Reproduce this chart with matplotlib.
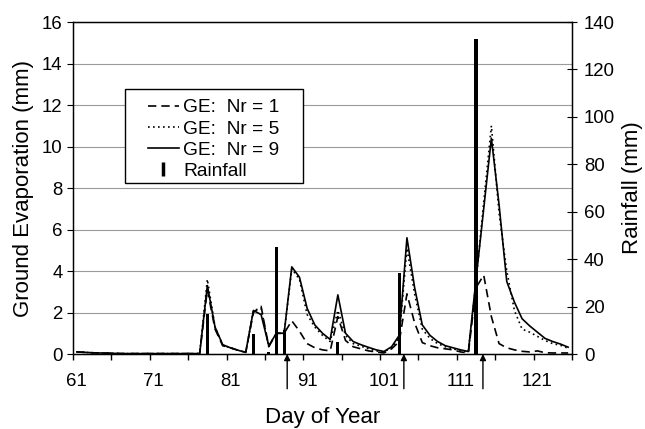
import numpy as np
import matplotlib.pyplot as plt
from matplotlib.lines import Line2D
from matplotlib.patches import Rectangle

plt.rcParams['font.family'] = ['Liberation Sans', 'DejaVu Sans']

# Day of year, 61..125
days = np.arange(61, 126)

# Ground evaporation (mm) for the three Nr settings
ge_nr1 = [0.1, 0.08, 0.06, 0.05, 0.04, 0.03, 0.02, 0.02, 0.02, 0.02,
          0.02, 0.02, 0.02, 0.02, 0.02, 0.02, 0.02, 3.1, 1.2, 0.4,
          0.3, 0.18, 0.08, 2.0, 2.3, 0.35, 1.0, 1.0, 1.6, 1.1,
          0.5, 0.3, 0.2, 0.15, 1.8, 0.65, 0.35, 0.25, 0.15, 0.1,
          0.05, 0.25, 0.6, 2.9, 1.5, 0.55, 0.4, 0.3, 0.25, 0.2,
          0.1, 0.05, 3.2, 3.8, 1.8, 0.5, 0.3, 0.2, 0.13, 0.1,
          0.15, 0.06, 0.05, 0.05, 0.05]
ge_nr5 = [0.1, 0.08, 0.06, 0.05, 0.04, 0.03, 0.02, 0.02, 0.02, 0.02,
          0.02, 0.02, 0.02, 0.02, 0.02, 0.02, 0.02, 3.6, 1.3, 0.42,
          0.3, 0.18, 0.08, 2.1, 2.2, 0.38, 1.0, 1.0, 4.1, 3.6,
          1.9, 1.3, 0.9, 0.6, 2.1, 0.9, 0.5, 0.38, 0.25, 0.15,
          0.1, 0.3, 0.8, 5.1, 2.9, 1.2, 0.75, 0.5, 0.35, 0.25,
          0.15, 0.1, 3.5, 7.3, 11.0, 6.8, 4.0, 2.1, 1.2, 1.05,
          0.85, 0.65, 0.5, 0.42, 0.28]
ge_nr9 = [0.1, 0.08, 0.06, 0.05, 0.04, 0.03, 0.02, 0.02, 0.02, 0.02,
          0.02, 0.02, 0.02, 0.02, 0.02, 0.02, 0.02, 3.3, 1.3, 0.45,
          0.3, 0.18, 0.08, 2.1, 1.9, 0.4, 1.0, 1.0, 4.2, 3.7,
          2.2, 1.4, 1.0, 0.7, 2.85, 1.0, 0.6, 0.45, 0.32, 0.2,
          0.12, 0.35, 0.9, 5.6, 3.2, 1.4, 0.9, 0.6, 0.4, 0.3,
          0.2, 0.12, 3.6, 7.0, 10.4, 7.2, 3.5, 2.5, 1.7, 1.35,
          1.05, 0.75, 0.6, 0.48, 0.33]

# Rainfall events (mm)
rain_days = [78, 84, 86, 87, 88, 95, 103, 113]
rain_mm = [17, 8.5, 1, 45, 10, 5, 34, 133]

# arrows marked under the axis
arrow_days = [88.4, 103.6, 113.9]

label_days = [61, 71, 81, 91, 101, 111, 121]

fig = plt.figure(figsize=(6.45, 4.29), dpi=100)
ax = fig.add_axes([0.1132, 0.1748, 0.7736, 0.7739])

ax.plot(days, ge_nr1, color='black', lw=1.2, ls=(0, (5, 3)))
ax.plot(days, ge_nr5, color='black', lw=1.2, ls=(0, (1, 2)))
ax.plot(days, ge_nr9, color='black', lw=1.2, ls='-')

ax.set_xlim(60.5, 125.5)
ax.set_ylim(0, 16)
ax.set_yticks(np.arange(0, 17, 2))
ax.set_xticks(label_days)
ax.set_xticklabels([str(d) for d in label_days])
ax.set_xticks(np.arange(60.5, 126, 5), minor=True)
ax.tick_params(axis='x', which='major', length=0, pad=14, labelsize=13.4)
ax.tick_params(axis='x', which='minor', length=4, direction='out', width=1)
ax.tick_params(axis='y', length=4.5, pad=3, labelsize=13.4, direction='out')
ax.grid(axis='y', color='#9a9a9a', lw=0.8)
ax.set_axisbelow(True)
for s in ax.spines.values():
    s.set_linewidth(1.0)

ax.set_xlabel('Day of Year', fontsize=16, labelpad=12)
ax.set_ylabel('Ground Evaporation (mm)', fontsize=16, labelpad=6)

for d in arrow_days:
    ax.annotate('', xy=(d, 0), xytext=(0, -25), textcoords='offset points',
                arrowprops=dict(arrowstyle='-|>', color='black', lw=1,
                                mutation_scale=9, shrinkA=0, shrinkB=0),
                annotation_clip=False)

ax2 = ax.twinx()
ax2.bar(rain_days, rain_mm, width=0.42, color='black')
ax2.set_ylim(0, 140)
ax2.set_yticks(np.arange(0, 141, 20))
ax2.tick_params(axis='y', direction='inout', length=7, pad=5, labelsize=13.4)
ax2.set_ylabel('Rainfall (mm)', fontsize=16, labelpad=5)

# legend with a wide frame like the original
ax2.add_patch(Rectangle((0.1042, 0.515), 0.357, 0.283, transform=ax2.transAxes,
                        facecolor='white', edgecolor='black', lw=1.0, zorder=5))
handles = [Line2D([], [], color='black', lw=1.2, ls=(0, (5, 3))),
           Line2D([], [], color='black', lw=1.2, ls=(0, (1, 2))),
           Line2D([], [], color='black', lw=1.2, ls='-'),
           Line2D([], [], color='black', marker='|', ls='none', ms=10, mew=2.5)]
labels = ['GE:  Nr = 1', 'GE:  Nr = 5', 'GE:  Nr = 9', 'Rainfall']
leg = ax2.legend(handles, labels, loc='upper left', bbox_to_anchor=(0.150, 0.768),
                 frameon=False, fontsize=13.8, handlelength=1.6, handletextpad=0.25,
                 labelspacing=0.2, borderpad=0, borderaxespad=0)
leg.set_zorder(6)

fig.savefig('out.png', dpi=100)
